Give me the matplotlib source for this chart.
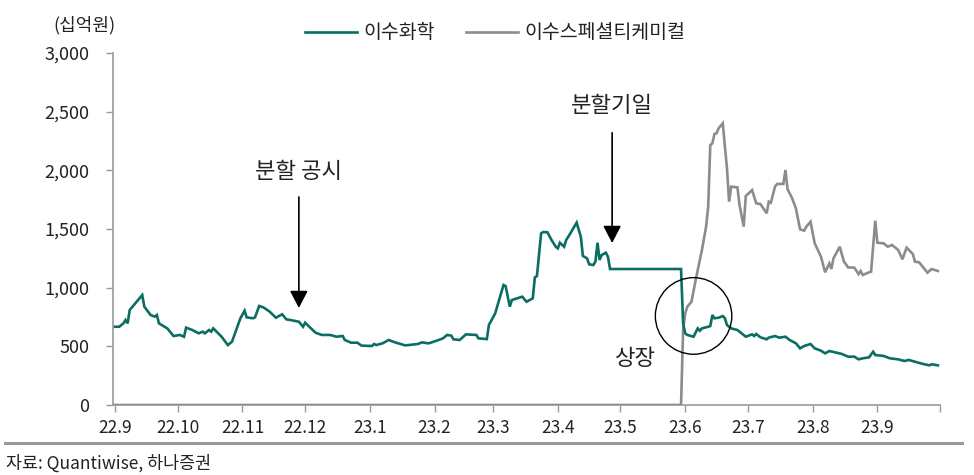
import matplotlib
matplotlib.use("Agg")
import matplotlib.pyplot as plt
import matplotlib.dates as mdates
from matplotlib.patches import Ellipse
from matplotlib.ticker import FuncFormatter, FixedLocator
import pandas as pd

plt.rcParams['font.family'] = ['Noto Sans CJK KR', 'DejaVu Sans']

# ---- data: 이수화학 (십억원) ----
isu_dates = [
    "2022-09-01", "2022-09-03", "2022-09-05", "2022-09-06", "2022-09-07", "2022-09-08",
    "2022-09-14", "2022-09-15", "2022-09-18", "2022-09-20", "2022-09-21", "2022-09-22",
    "2022-09-26", "2022-09-29", "2022-10-02", "2022-10-04", "2022-10-05", "2022-10-08",
    "2022-10-11", "2022-10-13", "2022-10-14", "2022-10-16", "2022-10-17", "2022-10-18",
    "2022-10-22", "2022-10-25", "2022-10-27", "2022-10-31", "2022-11-02", "2022-11-03",
    "2022-11-06", "2022-11-07", "2022-11-09", "2022-11-11", "2022-11-14", "2022-11-17",
    "2022-11-20", "2022-11-22", "2022-11-24", "2022-11-28", "2022-11-30", "2022-12-01",
    "2022-12-03", "2022-12-06", "2022-12-09", "2022-12-13", "2022-12-16", "2022-12-19",
    "2022-12-20", "2022-12-23", "2022-12-26", "2022-12-28", "2023-01-02", "2023-01-03",
    "2023-01-04", "2023-01-07", "2023-01-10", "2023-01-13", "2023-01-18", "2023-01-24",
    "2023-01-26", "2023-01-29", "2023-02-02", "2023-02-05", "2023-02-07", "2023-02-09",
    "2023-02-10", "2023-02-13", "2023-02-16", "2023-02-21", "2023-02-22", "2023-02-26",
    "2023-02-27", "2023-03-02", "2023-03-06", "2023-03-07", "2023-03-09", "2023-03-10",
    "2023-03-14", "2023-03-15", "2023-03-17", "2023-03-20", "2023-03-21", "2023-03-22",
    "2023-03-24", "2023-03-25", "2023-03-27", "2023-03-29", "2023-03-31", "2023-04-01",
    "2023-04-02", "2023-04-04", "2023-04-05", "2023-04-07", "2023-04-10", "2023-04-12",
    "2023-04-13", "2023-04-15", "2023-04-16", "2023-04-18", "2023-04-19", "2023-04-20",
    "2023-04-21", "2023-04-22", "2023-04-24", "2023-04-25", "2023-04-26", "2023-05-30",
    "2023-05-31", "2023-06-01", "2023-06-02", "2023-06-05", "2023-06-07", "2023-06-08",
    "2023-06-09", "2023-06-12", "2023-06-13", "2023-06-14", "2023-06-15", "2023-06-17",
    "2023-06-19", "2023-06-20", "2023-06-21", "2023-06-23", "2023-06-26", "2023-06-30",
    "2023-07-03", "2023-07-04", "2023-07-05", "2023-07-07", "2023-07-10", "2023-07-11",
    "2023-07-14", "2023-07-16", "2023-07-19", "2023-07-21", "2023-07-24", "2023-07-26",
    "2023-07-28", "2023-07-31", "2023-08-02", "2023-08-05", "2023-08-07", "2023-08-09",
    "2023-08-11", "2023-08-15", "2023-08-18", "2023-08-21", "2023-08-23", "2023-08-25",
    "2023-08-28", "2023-08-30", "2023-08-31", "2023-09-04", "2023-09-07", "2023-09-11",
    "2023-09-14", "2023-09-16", "2023-09-19", "2023-09-23", "2023-09-26", "2023-09-27",
    "2023-09-30",
]
isu_values = [
    667, 667, 696, 724, 696, 810,
    937, 838, 767, 753, 767, 696,
    653, 588, 597, 582, 659, 639,
    611, 625, 611, 639, 625, 653,
    582, 511, 540, 739, 804, 747,
    739, 747, 844, 832, 796, 744,
    773, 730, 724, 710, 667, 701,
    667, 616, 597, 597, 582, 588,
    554, 531, 531, 506, 503, 520,
    511, 525, 554, 534, 508, 520,
    534, 525, 548, 568, 597, 591,
    560, 554, 602, 597, 568, 562,
    682, 781, 1023, 1014, 838, 895,
    918, 923, 880, 909, 1088, 1099,
    1463, 1474, 1472, 1406, 1349, 1335,
    1383, 1349, 1406, 1463, 1554, 1435,
    1270, 1250, 1199, 1193, 1222, 1383,
    1236, 1278, 1298, 1264, 1159, 1159,
    696, 611, 597, 582, 653, 633,
    653, 667, 673, 767, 739, 744,
    758, 739, 682, 653, 639, 582,
    602, 588, 605, 577, 560, 574,
    588, 574, 582, 554, 526, 483,
    503, 520, 483, 463, 440, 460,
    452, 435, 412, 412, 389, 398,
    406, 454, 426, 418, 398, 389,
    375, 384, 369, 349, 338, 347,
    338,
]

# ---- data: 이수스페셜티케미컬 (십억원) ----
spc_dates = [
    "2022-09-01", "2023-05-30", "2023-05-31", "2023-06-01", "2023-06-02", "2023-06-04",
    "2023-06-06", "2023-06-08", "2023-06-09", "2023-06-11", "2023-06-12", "2023-06-13",
    "2023-06-14", "2023-06-15", "2023-06-16", "2023-06-17", "2023-06-19", "2023-06-20",
    "2023-06-21", "2023-06-22", "2023-06-23", "2023-06-26", "2023-06-27", "2023-06-29",
    "2023-06-30", "2023-07-03", "2023-07-05", "2023-07-07", "2023-07-10", "2023-07-11",
    "2023-07-12", "2023-07-14", "2023-07-15", "2023-07-18", "2023-07-19", "2023-07-20",
    "2023-07-22", "2023-07-24", "2023-07-26", "2023-07-28", "2023-07-29", "2023-07-31",
    "2023-08-02", "2023-08-05", "2023-08-07", "2023-08-09", "2023-08-10", "2023-08-11",
    "2023-08-14", "2023-08-16", "2023-08-18", "2023-08-21", "2023-08-23", "2023-08-24",
    "2023-08-25", "2023-08-28", "2023-08-29", "2023-08-31", "2023-09-01", "2023-09-04",
    "2023-09-06", "2023-09-08", "2023-09-11", "2023-09-13", "2023-09-15", "2023-09-18",
    "2023-09-19", "2023-09-21", "2023-09-25", "2023-09-27", "2023-09-30",
]
spc_values = [
    0, 0, 639, 781, 838, 880,
    1065, 1236, 1321, 1520, 1690, 2216,
    2230, 2310, 2316, 2358, 2401, 2202,
    2017, 1733, 1861, 1855, 1705, 1520,
    1781, 1832, 1719, 1713, 1634, 1733,
    1724, 1861, 1884, 1884, 2003, 1838,
    1770, 1676, 1497, 1486, 1520, 1562,
    1378, 1264, 1131, 1207, 1159, 1250,
    1349, 1222, 1173, 1170, 1116, 1142,
    1108, 1131, 1136, 1571, 1383, 1378,
    1349, 1364, 1321, 1242, 1341, 1287,
    1222, 1216, 1128, 1159, 1142,
]

series_names = ["이수화학", "이수스페셜티케미컬"]
series_colors = ["#0B6E62", "#8C8C8C"]

month_ticks = pd.date_range("2022-09-01", "2023-10-01", freq="MS")
month_labels = ["22.9", "22.10", "22.11", "22.12", "23.1", "23.2", "23.3",
                "23.4", "23.5", "23.6", "23.7", "23.8", "23.9", ""]

y_ticks = [0, 500, 1000, 1500, 2000, 2500, 3000]
unit_label = "(십억원)"
source_text = "자료: Quantiwise, 하나증권"

ann_split_notice = ("분할 공시", "2022-11-28", 1773, 827, 1986)
ann_split_date = ("분할기일", "2023-04-27", 2320, 1381, 2555)
ann_listing = ("상장", "2023-05-08", 395)
circle_center = ("2023-06-05", 759)

text_color = "#222222"
axis_color = "#9A9A9A"

fig = plt.figure(figsize=(9.74, 4.75), dpi=100)
ax = fig.add_axes([113 / 974, 1 - 405 / 475, (940 - 113) / 974, (405 - 53) / 475])

isu_x = pd.to_datetime(isu_dates)
spc_x = pd.to_datetime(spc_dates)
l2, = ax.plot(spc_x, spc_values, color=series_colors[1], lw=1.9, label=series_names[1],
              solid_joinstyle='miter', zorder=3)
l1, = ax.plot(isu_x, isu_values, color=series_colors[0], lw=1.9, label=series_names[0],
              solid_joinstyle='miter', zorder=4)

ax.set_xlim(pd.Timestamp("2022-08-31"), pd.Timestamp("2023-10-01"))
ax.set_ylim(0, 3000)
ax.xaxis.set_major_locator(FixedLocator(mdates.date2num(month_ticks)))
ax.set_xticklabels(month_labels)
ax.yaxis.set_major_locator(FixedLocator(y_ticks))
ax.yaxis.set_major_formatter(FuncFormatter(lambda v, p: f"{int(v):,}"))

for s in ["top", "right"]:
    ax.spines[s].set_visible(False)
for s in ["left", "bottom"]:
    ax.spines[s].set_color(axis_color)
    ax.spines[s].set_linewidth(1.2)
ax.tick_params(axis='both', colors=axis_color, labelcolor=text_color,
               length=5, width=1)
ax.tick_params(axis='y', pad=12, labelsize=13)
ax.tick_params(axis='x', pad=5, labelsize=12.5)

# unit label
fig.text(84 / 974, 1 - 25 / 475, unit_label, ha='center', va='center', fontsize=13,
         color=text_color)

# legend
fig.legend(handles=[l1, l2], labels=series_names, loc='center',
           bbox_to_anchor=(495 / 974, 1 - 33 / 475), ncol=2, frameon=False,
           fontsize=14, handlelength=2.7, handletextpad=0.3, columnspacing=1.6,
           labelcolor=text_color)

arrow_style = dict(arrowstyle='-|>,head_length=0.42,head_width=0.22', color='black',
                   lw=1.2, mutation_scale=25, shrinkA=0, shrinkB=0)

for label, d, y0, y1, ytext in [ann_split_notice, ann_split_date]:
    xd = pd.Timestamp(d)
    ax.annotate('', xy=(xd, y1), xytext=(xd, y0), arrowprops=arrow_style, zorder=5)
    ax.text(xd, ytext, label, ha='center', va='center', fontsize=16, color=text_color)

ax.text(pd.Timestamp(ann_listing[1]), ann_listing[2], ann_listing[0], ha='center',
        va='center', fontsize=16, color=text_color)

cdate = mdates.date2num(pd.Timestamp(circle_center[0]))
ax.add_patch(Ellipse((cdate, circle_center[1]), width=36.6, height=653, fill=False,
                     edgecolor='black', lw=1.0, zorder=6))

# bottom rule and source
fig.add_artist(plt.Line2D([5 / 974, 962 / 974], [1 - 443 / 475, 1 - 443 / 475],
                          color=axis_color, lw=2.2, transform=fig.transFigure))
fig.text(6 / 974, 1 - 463 / 475, source_text, ha='left', va='center', fontsize=12.5,
         color=text_color)

fig.savefig("out.png", dpi=100)
